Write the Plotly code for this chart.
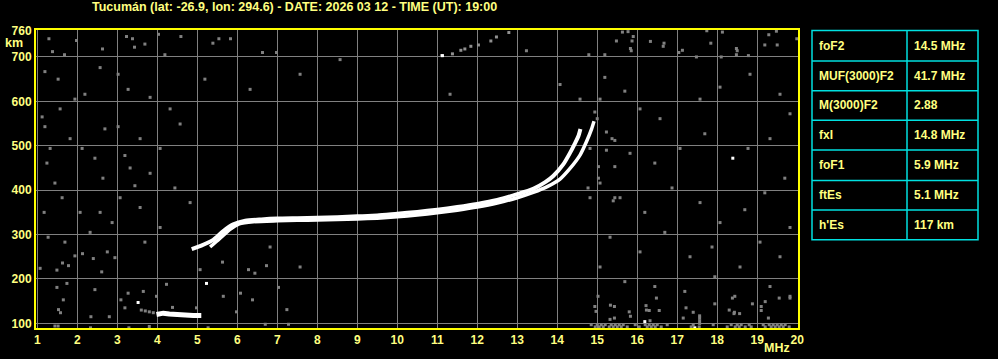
import plotly.graph_objects as go

# ---------------- data ----------------
title_text = "Tucumán (lat: -26.9, lon: 294.6) - DATE: 2026 03 12 - TIME (UT): 19:00"

freq_ticks = list(range(1, 21))
height_ticks = [100, 200, 300, 400, 500, 600, 700, 760]

# F-layer ordinary trace
o_freq = [4.86, 5.1, 5.4, 5.65, 5.9, 6.2, 6.6, 7.0, 7.5, 8.0, 8.5, 9.0, 9.5, 10.0, 10.5,
          11.0, 11.5, 12.0, 12.5, 13.0, 13.4, 13.7, 13.9, 14.15, 14.32, 14.44, 14.53, 14.58]
o_height = [267, 275, 288, 308, 323, 331, 334, 336, 337, 338, 339, 341, 343, 347, 351,
            356, 362, 369, 378, 391, 403, 418, 432, 458, 484, 505, 522, 538]

# F-layer extraordinary trace
x_freq = [5.32, 5.55, 5.82, 6.05, 6.4, 7.0, 7.5, 8.0, 8.5, 9.0, 9.5, 10.0, 10.5, 11.0,
          11.5, 12.0, 12.5, 13.0, 13.4, 13.75, 14.07, 14.32, 14.57, 14.73, 14.86, 14.92]
x_height = [272, 290, 312, 324, 329, 331, 332, 333, 334, 335, 337, 340, 344, 349,
            355, 362, 371, 383, 395, 408, 425, 449, 479, 509, 538, 555]

# Sporadic E trace
es_freq = [3.98, 4.15, 4.3, 4.5, 4.7, 4.9, 5.1]
es_height = [120, 123, 121, 119, 119, 118, 118]

# faint multiple echo near top
mh_freq = [11.11, 11.38, 11.59, 11.69, 11.84, 12.03, 12.34, 12.48, 12.79]
mh_height = [703, 707, 715, 718, 724, 727, 736, 745, 755]

# isolated white echoes
white_freq = [3.52, 5.23, 18.39, 16.19, 17.44, 11.13]
white_height = [147, 190, 472, 104, 90, 703]

# grey noise echoes
noise_freq = [
    3.6, 3.7, 3.8, 3.9,
    1.07, 1.49, 1.63, 1.78, 1.94, 2.13, 2.4, 2.61, 2.75, 2.94, 1.49, 1.74, 1.65, 1.53, 1.58,
    2.34, 2.44, 2.8, 3.09, 3.19, 3.27, 3.65, 3.98, 4.23, 4.38, 4.98, 5.07, 5.63, 6.28, 6.44,
    6.73, 5.98, 6.08, 5.65, 6.38, 7.03, 7.24, 7.28, 6.7, 1.44, 1.52, 3.8, 5.27, 2.33, 3.29,
    1.29, 1.38, 1.68, 1.98, 2.63, 3.23, 3.38, 3.43, 3.69, 4.03, 4.19, 4.59, 5.39, 5.54, 5.83,
    6.63, 6.98,
    13.23, 14.79, 15.19, 15.48, 15.63, 15.77, 15.83, 15.87, 15.9, 15.85, 16.33, 16.65, 16.67,
    17.04, 17.13, 17.48, 17.74, 17.84, 18.1, 18.13, 18.48, 18.5, 18.48, 18.78, 19.19, 19.29,
    19.48, 19.5, 19.99,
    14.94, 14.97, 15.33, 15.43, 15.8, 15.83, 15.32, 15.43, 16.22, 16.23, 16.3, 16.48, 16.55,
    16.32, 17.22, 17.15, 17.4, 17.94, 18.38, 18.3, 18.42, 18.43, 18.56, 18.88, 19.1, 19.1,
    19.2, 19.55, 19.82, 19.28,
    1.12, 1.19, 1.32, 1.24, 1.44, 1.62, 1.17, 1.27, 1.82, 2.12, 2.44, 2.64, 3.02, 3.19, 3.32,
    3.44, 3.07, 3.57, 2.87, 2.32, 1.69, 1.52, 1.19, 2.57, 3.02, 3.27, 3.82, 4.32, 4.57, 4.07,
    3.82, 4.44, 4.82, 1.57, 1.94, 2.19, 2.69, 3.57, 3.69, 4.07, 2.57, 2.07,
    15.19, 15.69, 16.07, 16.57, 17.57, 18.07, 18.82, 19.57, 19.82, 15.37, 15.82, 16.44, 17.07,
    17.69, 18.77, 19.32, 19.69, 15.07, 15.57, 16.19, 16.87, 17.57, 18.07, 18.69, 19.19, 19.82,
    15.32, 16.07, 16.69, 17.32, 17.87, 18.57, 19.07, 19.57, 15.07, 15.69, 16.44, 17.19, 17.94,
    18.44, 19.32, 19.82, 15.0, 15.02,
    5.19, 6.32, 7.57, 8.57, 11.32, 14.07, 14.57, 14.82, 14.77, 14.82, 6.82, 7.57,
    15.07, 14.94, 15.23, 15.44, 15.23, 15.03, 15.03, 15.44, 15.4, 15.44,
    14.85, 14.95, 15.0, 15.05, 15.1, 15.15, 15.2, 15.3, 15.35, 15.4, 15.45, 15.5, 15.55, 15.6,
    15.65, 15.75, 15.95, 16.05, 16.2, 16.25, 16.3, 16.35, 16.4, 16.45, 16.5, 16.6, 16.75, 17.35,
    17.4, 17.55, 17.9, 18.25, 18.35, 18.45, 18.5, 18.55, 18.6, 18.7, 18.8, 18.85, 19.15, 19.2,
    19.3, 19.35, 19.4, 19.45, 19.5, 19.55, 19.6, 19.65, 19.7, 19.8,
    17.56, 17.56, 17.56, 17.56,
]
noise_height = [
    130, 128, 126, 124,
    224, 220, 236, 230, 252, 257, 246, 216, 261, 248, 181, 190, 153, 131, 124,
    115, 176, 115, 153, 135, 168, 172, 161, 188, 136, 135, 221, 238, 221, 213,
    230, 126, 168, 161, 153, 181, 131, 98, 98, 94, 94, 93, 90, 90, 90,
    741, 712, 705, 737, 718, 746, 741, 722, 729, 751, 705, 746, 731, 741, 741,
    710, 710,
    714, 705, 705, 736, 756, 757, 719, 736, 746, 714, 735, 724, 731,
    710, 715, 700, 759, 731, 700, 756, 719, 714, 705, 703, 727, 750,
    758, 727, 741,
    138, 127, 141, 138, 126, 116, 109, 112, 140, 130, 129, 157, 129,
    106, 135, 112, 125, 144, 157, 130, 122, 125, 122, 144, 138, 129,
    149, 157, 157, 112,
    565, 543, 494, 461, 416, 383, 350, 294, 516, 494, 472, 427, 543, 478, 450,
    410, 383, 361, 327, 305, 283, 650, 667, 676, 661, 627, 609, 583, 549, 494,
    438, 405, 372, 583, 605, 616, 538, 516, 283, 316, 350, 350,
    654, 623, 583, 561, 605, 632, 661, 616, 572, 516, 483, 461, 494,
    527, 494, 516, 427, 416, 383, 350, 405, 372, 327, 356, 394, 316,
    294, 261, 305, 250, 272, 227, 283, 250, 227, 194, 183, 172, 205,
    161, 183, 161, 561, 161,
    650, 627, 661, 694, 616, 638, 605, 494, 405, 383, 272, 227,
    605, 576, 531, 512, 490, 453, 427, 453, 376, 383,
    97, 92, 97, 92, 97, 92, 97, 92, 97, 92, 97, 92, 97, 92,
    97, 92, 97, 92, 97, 92, 97, 92, 97, 92, 97, 92, 97, 92,
    97, 92, 97, 92, 97, 92, 97, 92, 97, 92, 97, 92, 97, 92,
    97, 92, 97, 92, 97, 92, 97, 92, 97, 92,
    100, 106, 112, 117,
]

table_labels = ["foF2", "MUF(3000)F2", "M(3000)F2", "fxI", "foF1", "ftEs", "h'Es"]
table_values = ["14.5 MHz", "41.7 MHz", "2.88", "14.8 MHz", "5.9 MHz", "5.1 MHz", "117 km"]

# ---------------- styling / layout ----------------
W, H = 998, 359
ML, MR, MT, MB = 36, 200, 30, 27
YEL = "#ffff80"
FONT = "Liberation Sans"


def px_x(px):
    return (px - ML) / (W - ML - MR)


def px_y(py):
    return (H - MB - py) / (H - MT - MB)


fig = go.Figure()

fig.add_trace(go.Scatter(x=noise_freq, y=noise_height, mode="markers",
                         marker=dict(symbol="square", size=3, color="#808080", line=dict(width=0)),
                         hoverinfo="skip", showlegend=False))
fig.add_trace(go.Scatter(x=mh_freq, y=mh_height, mode="markers",
                         marker=dict(symbol="square", size=3, color="#909090", line=dict(width=0)),
                         hoverinfo="skip", showlegend=False))
fig.add_trace(go.Scatter(x=white_freq, y=white_height, mode="markers",
                         marker=dict(symbol="square", size=3, color="white", line=dict(width=0)),
                         hoverinfo="skip", showlegend=False))
fig.add_trace(go.Scatter(x=x_freq, y=x_height, mode="lines",
                         line=dict(color="white", width=3.5, shape="spline", smoothing=0.6),
                         hoverinfo="skip", showlegend=False))
fig.add_trace(go.Scatter(x=o_freq, y=o_height, mode="lines",
                         line=dict(color="white", width=4, shape="spline", smoothing=0.6),
                         hoverinfo="skip", showlegend=False))
fig.add_trace(go.Scatter(x=es_freq, y=es_height, mode="lines",
                         line=dict(color="white", width=5),
                         hoverinfo="skip", showlegend=False))

axis_font = dict(family=FONT, size=12, color=YEL, weight="bold")

fig.update_layout(
    width=W, height=H,
    margin=dict(l=ML, r=MR, t=MT, b=MB),
    paper_bgcolor="black", plot_bgcolor="black",
    xaxis=dict(range=[0.967, 20.02], tickvals=freq_ticks, ticktext=[str(v) for v in freq_ticks],
               showgrid=True, gridcolor="#808080", gridwidth=1, zeroline=False,
               showline=True, linecolor="#ffff00", linewidth=2, mirror=True,
               ticks="", tickfont=axis_font),
    yaxis=dict(range=[89.6, 760.7], tickvals=height_ticks, ticktext=[str(v) for v in height_ticks],
               showgrid=True, gridcolor="#808080", gridwidth=1, zeroline=False,
               showline=True, linecolor="#ffff00", linewidth=2, mirror=True,
               ticks="", tickfont=axis_font),
)

annotations = [
    dict(text=title_text, x=px_x(294), y=px_y(7), xref="paper", yref="paper",
         xanchor="center", yanchor="middle", showarrow=False,
         font=dict(family=FONT, size=12.5, color=YEL, weight="bold")),
    dict(text="km", x=px_x(14), y=px_y(43), xref="paper", yref="paper",
         xanchor="center", yanchor="middle", showarrow=False,
         font=dict(family=FONT, size=12.5, color=YEL, weight="bold")),
    dict(text="MHz", x=px_x(777), y=px_y(352), xref="paper", yref="paper",
         xanchor="center", yanchor="middle", showarrow=False,
         font=dict(family=FONT, size=12.5, color=YEL, weight="bold")),
]

shapes = []
CYAN = "#00e0e0"
tx0, tx1, tcol = 812, 978, 907
row_edges = [30.5, 61.5, 91.5, 121.5, 151.5, 182.5, 212.5, 242.5]
shapes.append(dict(type="rect", xref="paper", yref="paper",
                   x0=px_x(tx0), x1=px_x(tx1), y0=px_y(row_edges[0]), y1=px_y(row_edges[-1]),
                   line=dict(color=CYAN, width=1.5)))
shapes.append(dict(type="line", xref="paper", yref="paper",
                   x0=px_x(tcol), x1=px_x(tcol), y0=px_y(row_edges[0]), y1=px_y(row_edges[-1]),
                   line=dict(color=CYAN, width=1.5)))
for e in row_edges[1:-1]:
    shapes.append(dict(type="line", xref="paper", yref="paper",
                       x0=px_x(tx0), x1=px_x(tx1), y0=px_y(e), y1=px_y(e),
                       line=dict(color=CYAN, width=1.5)))

for i, (lab, val) in enumerate(zip(table_labels, table_values)):
    cy = (row_edges[i] + row_edges[i + 1]) / 2
    annotations.append(dict(text=lab, x=px_x(817), y=px_y(cy), xref="paper", yref="paper",
                            xanchor="left", yanchor="middle", showarrow=False,
                            font=dict(family=FONT, size=12, color=YEL, weight="bold")))
    annotations.append(dict(text=val, x=px_x(912), y=px_y(cy), xref="paper", yref="paper",
                            xanchor="left", yanchor="middle", showarrow=False,
                            font=dict(family=FONT, size=12, color=YEL, weight="bold")))

fig.update_layout(annotations=annotations, shapes=shapes)

fig.write_html("out.html")
